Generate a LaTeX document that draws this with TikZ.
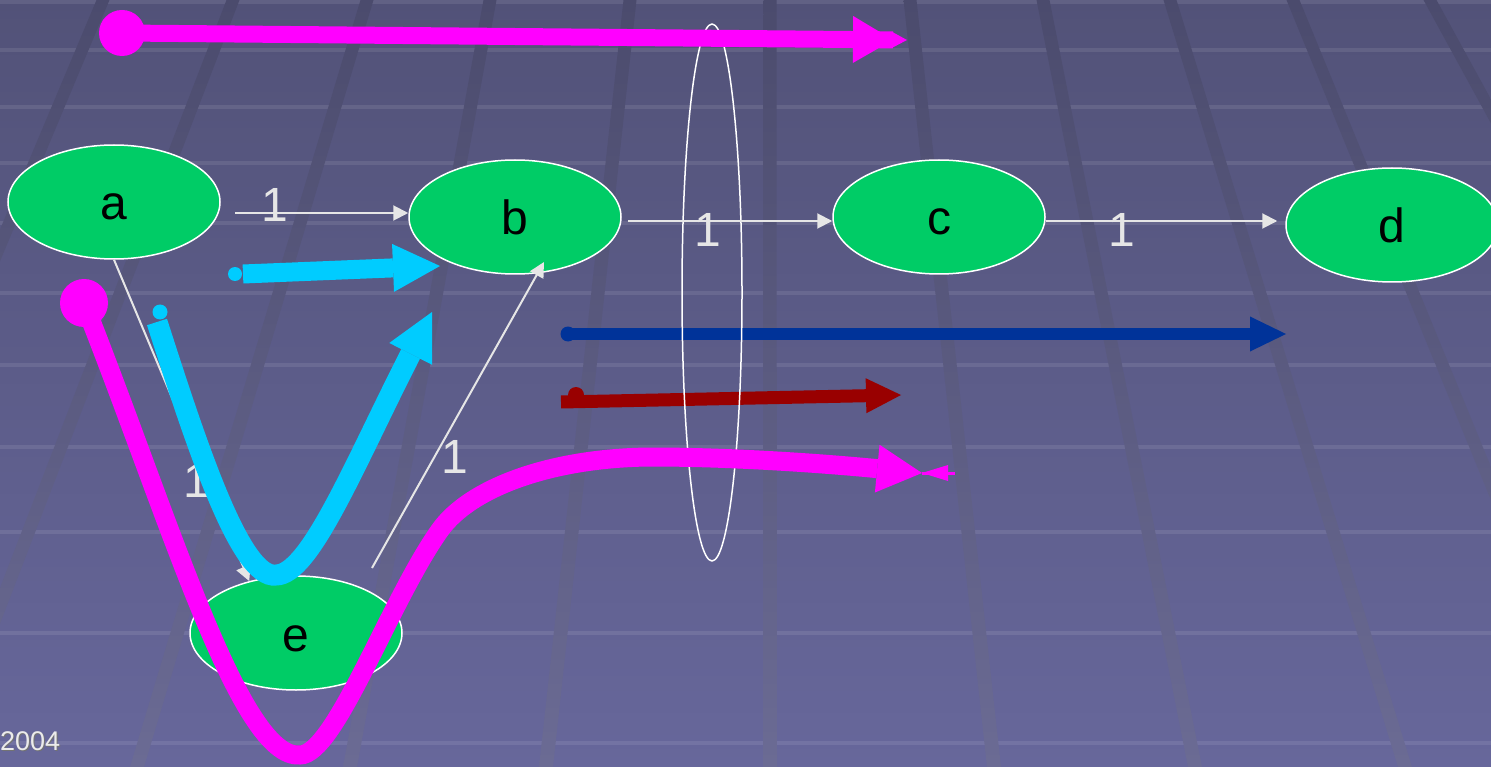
\documentclass[tikz,border=0pt]{standalone}
\usepackage{fontspec}
\setmainfont{Liberation Sans}
\usetikzlibrary{shapes.geometric,arrows.meta}

\definecolor{bgtop}{HTML}{525278}
\definecolor{bgbot}{HTML}{67679B}
\definecolor{gridtop}{HTML}{4B4B6D}
\definecolor{gridbot}{HTML}{6B6B94}
\definecolor{nodegreen}{HTML}{00CC66}
\definecolor{linkgrey}{HTML}{E6E6E6}
\definecolor{pathmag}{HTML}{FF00FF}
\definecolor{pathcyan}{HTML}{00CCFF}
\definecolor{pathblue}{HTML}{003399}
\definecolor{pathred}{HTML}{990000}

\begin{document}
\begin{tikzpicture}[x=1pt,y=-1pt,
  vertex/.style={ellipse, draw=white, line width=1.5pt, fill=nodegreen,
    minimum width=212pt, minimum height=114pt, inner sep=0pt,
    font=\fontsize{48}{48}\selectfont, text height=36pt, text depth=0pt},
  link/.style={draw=linkgrey, line width=2pt, -{Triangle[length=15pt,width=15pt]}},
  weight/.style={text=linkgrey, font=\fontsize{48}{48}\selectfont,
    anchor=base, inner sep=0pt},
  cyanflow/.style={draw=pathcyan, line width=19pt,
    -{Triangle[length=47pt,width=48pt,line width=0pt]}},
  magflow/.style={draw=pathmag, line width=19pt,
    -{Triangle[length=45pt,width=48pt,line width=0pt]}},
]
\useasboundingbox (0,0) rectangle (1491,767);
\clip (0,0) rectangle (1491,767);

% backdrop: gradient, light horizontal bands, receding dark rails
\shade[top color=bgtop,bottom color=bgbot] (0,0) rectangle (1491,767);
\foreach \ys in {2,50,107,163,223,293,365,447,532,633,743}
  \fill[white,opacity=0.09] (0,\ys-2) rectangle (1491,\ys+2);
\foreach \xa/\xb in {103/-219,233/-62,367/137,490/350,630/546,770/770,
                     910/994,1043/1195,1170/1405,1293/1607,1430/1850}
  \shade[top color=gridtop,bottom color=gridbot]
    (\xa-6.5,0) -- (\xa+6.5,0) -- (\xb+7,767) -- (\xb-7,767) -- cycle;

% blue and red flows
\coordinate (bl0) at (568,334);
\coordinate (bl1) at (1286,334);
\fill[pathblue] (bl0) circle[radius=7.5pt];
\draw[pathblue,line width=12pt,-{Triangle[length=36pt,width=35pt,line width=0pt]}]
  (bl0) -- (bl1);

\coordinate (rd0) at (561,402);
\coordinate (rd1) at (901,395);
\coordinate (rddot) at (576,395);
\draw[pathred,line width=13pt,-{Triangle[length=35pt,width=35pt,line width=0pt]}]
  (rd0) -- (rd1);
\fill[pathred] (rddot) circle[radius=8pt];

% the cut
\node[draw=white,line width=1.5pt,ellipse,minimum width=60pt,
      minimum height=537pt,inner sep=0pt] (cut) at (712,292.5) {};

% vertices
\node[vertex] (a) at (114,202) {a};
\node[vertex] (b) at (515,217) {b};
\node[vertex] (c) at (939,217) {c};
\node[vertex] (d) at (1392,225) {d};
\node[vertex] (e) at (296,633) {e};

% weighted links
\coordinate (ab0) at (235,213);
\draw[link] (ab0) -- (b.west |- ab0);
\coordinate (bc0) at (628,221);
\draw[link] (bc0) -- (c.west |- bc0);
\coordinate (cd0) at (1045,221);
\draw[link] (c.east |- cd0) -- ([xshift=-8pt]d.west |- cd0);
\draw[link] (a.south) -- (e.132);
\coordinate (eb0) at (372,568);
\coordinate (eb1) at (544,262);
\draw[link] (eb0) -- (eb1);

\node[weight] (w1) at (275,222) {1};
\node[weight] (w2) at (708,247) {1};
\node[weight] (w3) at (1122,247) {1};
\node[weight] (w4) at (197,497) {1};
\node[weight] (w5) at (455,473) {1};

% cyan flows
\coordinate (cu0) at (235,274);
\coordinate (cu1) at (440,266);
\fill[pathcyan] (cu0) circle[radius=7pt];
\draw[cyanflow] ([xshift=8pt]cu0) -- (cu1);

\coordinate (cv0) at (160,312);
\coordinate (cvs) at (157,322);
\coordinate (cvb) at (276,575);
\coordinate (cv1) at (432,312);
\fill[pathcyan] (cv0) circle[radius=7.5pt];
\draw[cyanflow,line width=21pt] (cvs) .. controls (195,440) and (240,580) .. (cvb)
  .. controls (310,575) and (355,463) .. (cv1);

% magenta flows
\coordinate (mt0) at (122,33);
\coordinate (mt1) at (907,40);
\fill[pathmag] (mt0) circle[radius=23pt];
\draw[draw=pathmag,line width=17pt,
  -{Triangle[length=40pt,width=47pt,line width=0pt,sep=0pt]Triangle[length=14pt,width=15pt,line width=0pt]}]
  (mt0) -- (mt1);

\coordinate (mv0) at (84,303);
\coordinate (mvb) at (300,755);
\coordinate (mvk) at (440,530);
\coordinate (mvp) at (650,457);
\coordinate (mv1) at (922,473);
\fill[pathmag] (mv0) circle[radius=24pt];
\draw[magflow] (mv0) .. controls (170,520) and (240,760) .. (mvb)
  .. controls (335,755) and (390,600) .. (mvk)
  .. controls (470,488) and (550,458) .. (mvp)
  .. controls (750,457) and (850,466) .. (mv1);
\fill[pathmag] (mv1) -- (948,465) -- (948,481) -- cycle;
\draw[pathmag,line width=3pt] (mv1) -- (955,473);

% footer date
\node[anchor=base west,inner sep=0pt,font=\fontsize{27}{27}\selectfont,
      text=black!55] (dateshadow) at (1,751) {2004};
\node[anchor=base west,inner sep=0pt,font=\fontsize{27}{27}\selectfont,
      text=white!92!black] (date) at (0,750) {2004};
\end{tikzpicture}
\end{document}
